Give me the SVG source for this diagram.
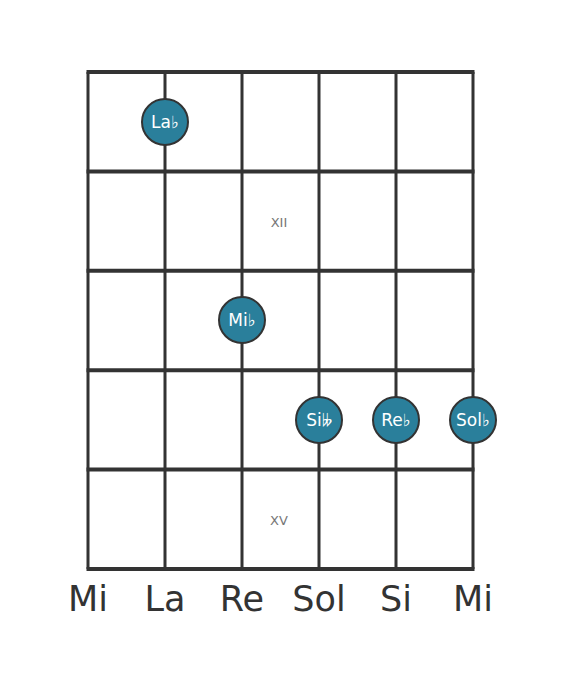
<svg xmlns="http://www.w3.org/2000/svg" width="568" height="682" viewBox="0 0 568 682">
<style>
.str{stroke:#333;stroke-width:3;fill:none}
.fret{stroke:#333;stroke-width:4;fill:none}
.dot{fill:#2a7f9b;stroke:#333;stroke-width:2}
.nt{font-family:"DejaVu Sans",sans-serif;font-size:17px;fill:#fff;text-anchor:middle;dominant-baseline:central}
.fl{font-family:"DejaVu Sans",sans-serif;font-size:13px;fill:#777;text-anchor:middle;dominant-baseline:central}
.sn{font-family:"DejaVu Sans",sans-serif;font-size:35px;fill:#333;text-anchor:middle}
</style>
<rect width="568" height="682" fill="#fff"/>
<g id="connectors">
<line class="str" x1="88" y1="72" x2="88" y2="569"/>
<line class="str" x1="165" y1="72" x2="165" y2="569"/>
<line class="str" x1="242" y1="72" x2="242" y2="569"/>
<line class="str" x1="319" y1="72" x2="319" y2="569"/>
<line class="str" x1="396" y1="72" x2="396" y2="569"/>
<line class="str" x1="473" y1="72" x2="473" y2="569"/>
<line class="fret" x1="86.5" y1="72" x2="474.5" y2="72" stroke-width="5"/>
<line class="fret" x1="86.5" y1="171.4" x2="474.5" y2="171.4"/>
<line class="fret" x1="86.5" y1="270.8" x2="474.5" y2="270.8"/>
<line class="fret" x1="86.5" y1="370.2" x2="474.5" y2="370.2"/>
<line class="fret" x1="86.5" y1="469.6" x2="474.5" y2="469.6"/>
<line class="fret" x1="86.5" y1="569" x2="474.5" y2="569"/>
</g>
<g id="fret-labels">
<text class="fl" x="279" y="222">XII</text>
<text class="fl" x="279" y="520">XV</text>
</g>
<g id="node-lab"><circle class="dot" cx="165" cy="122" r="23"/><text class="nt" x="165" y="122">La♭</text></g>
<g id="node-mib"><circle class="dot" cx="242" cy="320" r="23"/><text class="nt" x="242" y="320">Mi♭</text></g>
<g id="node-si"><circle class="dot" cx="319" cy="420" r="23"/><text class="nt" x="319" y="420">Si𝄫</text></g>
<g id="node-reb"><circle class="dot" cx="396" cy="420" r="23"/><text class="nt" x="396" y="420">Re♭</text></g>
<g id="node-solb"><circle class="dot" cx="473" cy="420" r="23"/><text class="nt" x="473" y="420">Sol♭</text></g>
<g id="string-names">
<text class="sn" x="88" y="611">Mi</text>
<text class="sn" x="165" y="611">La</text>
<text class="sn" x="242" y="611">Re</text>
<text class="sn" x="319" y="611">Sol</text>
<text class="sn" x="396" y="611">Si</text>
<text class="sn" x="473" y="611">Mi</text>
</g>
</svg>
